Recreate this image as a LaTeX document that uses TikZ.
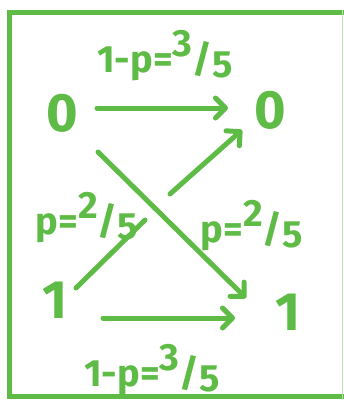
\documentclass[tikz,border=0pt]{standalone}
\usepackage{fontspec}
\setmainfont{Fira Sans}
\usetikzlibrary{arrows.meta}
\definecolor{pen}{RGB}{94,187,70}
\definecolor{penlight}{RGB}{190,225,180}
\newcommand{\myfrac}[2]{\raisebox{0.42em}{#1}/\raisebox{-0.12em}{#2}}
\tikzset{
  state/.style={text=pen, font=\fontsize{54}{58}\selectfont\bfseries, inner sep=2pt},
  lab/.style={text=pen, font=\fontsize{38}{42}\selectfont\bfseries, inner sep=1pt},
  edge/.style={draw=pen, line width=5pt, line cap=round},
  arr/.style={edge, -{Straight Barb[length=10pt,width=20pt,line width=5pt,round]}},
  frame/.style={draw=pen, line width=5pt}
}
\begin{document}
\begin{tikzpicture}[x=1pt,y=-1pt]
\useasboundingbox (0,0) rectangle (344,400);
\draw[frame] (346,12) -- (9,12) -- (9,396) -- (346,396);
\draw[draw=penlight, line width=1.2pt] (342.5,10) -- (342.5,400);
\node[state] (n0L) at (62,113) {0};
\node[state] (n0R) at (270,110) {0};
\node[state] (n1L) at (55,300) {1};
\node[state] (n1R) at (288,312) {1};
\coordinate (g1) at (145,220);
\coordinate (g2) at (170,194);
\draw[edge] ([shift={(21,-12)}]n1L.center) -- (g1);
\draw[arr] (g2) -- ([shift={(-28,20)}]n0R.center);
\draw[arr] ([shift={(35,-5)}]n0L.center) -- ([shift={(-42,-2)}]n0R.center);
\draw[arr] ([shift={(36,39)}]n0L.center) -- ([shift={(-42,-14)}]n1R.center);
\draw[arr] ([shift={(48,18)}]n1L.center) -- ([shift={(-53,6)}]n1R.center);
\node[lab] (ltop) at (165,56) {1-p=\myfrac{3}{5}};
\node[lab] (lbot) at (152,370) {1-p=\myfrac{3}{5}};
\node[lab] (lleft) at (87,218) {p=\myfrac{2}{5}};
\node[lab] (lright) at (252,226) {p=\myfrac{2}{5}};
\end{tikzpicture}
\end{document}
